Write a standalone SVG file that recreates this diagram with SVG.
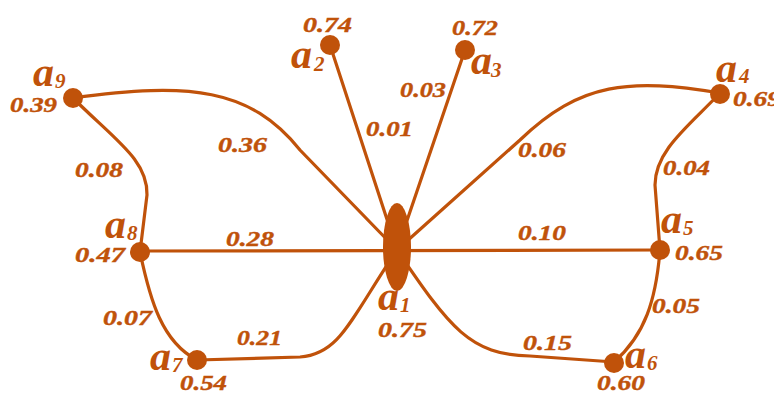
<svg xmlns="http://www.w3.org/2000/svg" width="774" height="394" viewBox="0 0 774 394">
<style>
.e{fill:none;stroke:#C0520A;stroke-width:3.2;stroke-linecap:round}
.n{fill:#C0520A}
text{fill:#C0520A;font-family:"Liberation Serif","Times New Roman",serif;font-weight:bold;font-style:italic}
.v{font-size:21px;stroke:#C0520A;stroke-width:0.4}
.a{font-size:42px}
.s{font-size:21px}
</style>
<rect width="774" height="394" fill="#fff"/>
<g id="connectors">
<path class="e" d="M73,98 C190,82 250,88 300,150 L397,250"/>
<path class="e" d="M73,98 C115,140 148,160 147,195 L140,252"/>
<path class="e" d="M140,252 C150,300 162,342 197,360"/>
<path class="e" d="M197,360 L300,357 C340,354 350,320 397,250"/>
<path class="e" d="M397,250 C450,328 470,355 530,356 L614,362"/>
<path class="e" d="M614,362 C645,335 656,300 660,250"/>
<path class="e" d="M660,250 L655,185 C655,150 690,125 720,93"/>
<path class="e" d="M720,93 C630,78 580,82 520,140 L397,250"/>
<path class="e" d="M140,251 L660,250"/>
<path class="e" d="M330,45 L397,250"/>
<path class="e" d="M465,50 L397,250"/>
<text class="v" x="218" y="152" textLength="49" lengthAdjust="spacingAndGlyphs">0.36</text>
<text class="v" x="366" y="136" textLength="47" lengthAdjust="spacingAndGlyphs">0.01</text>
<text class="v" x="400" y="97" textLength="46" lengthAdjust="spacingAndGlyphs">0.03</text>
<text class="v" x="518" y="157" textLength="48" lengthAdjust="spacingAndGlyphs">0.06</text>
<text class="v" x="75" y="177" textLength="48" lengthAdjust="spacingAndGlyphs">0.08</text>
<text class="v" x="663" y="175" textLength="47" lengthAdjust="spacingAndGlyphs">0.04</text>
<text class="v" x="226" y="246" textLength="48" lengthAdjust="spacingAndGlyphs">0.28</text>
<text class="v" x="518" y="240" textLength="48" lengthAdjust="spacingAndGlyphs">0.10</text>
<text class="v" x="103" y="325" textLength="49" lengthAdjust="spacingAndGlyphs">0.07</text>
<text class="v" x="237" y="345" textLength="45" lengthAdjust="spacingAndGlyphs">0.21</text>
<text class="v" x="523" y="350" textLength="49" lengthAdjust="spacingAndGlyphs">0.15</text>
<text class="v" x="652" y="313" textLength="48" lengthAdjust="spacingAndGlyphs">0.05</text>
</g>
<g id="a1">
<ellipse class="n" cx="397" cy="247" rx="14" ry="44"/>
<text class="a" x="378" y="310">a</text><text class="s" x="400" y="312">1</text>
<text class="v" x="378" y="337" textLength="49" lengthAdjust="spacingAndGlyphs">0.75</text>
</g>
<g id="a2">
<circle class="n" cx="330" cy="45" r="10"/>
<text class="a" x="291" y="68">a</text><text class="s" x="314" y="71">2</text>
<text class="v" x="303" y="32" textLength="49" lengthAdjust="spacingAndGlyphs">0.74</text>
</g>
<g id="a3">
<circle class="n" cx="465" cy="50" r="10"/>
<text class="a" x="471" y="74">a</text><text class="s" x="491" y="77">3</text>
<text class="v" x="452" y="35" textLength="46" lengthAdjust="spacingAndGlyphs">0.72</text>
</g>
<g id="a4">
<circle class="n" cx="720" cy="94" r="10"/>
<text class="a" x="716" y="82">a</text><text class="s" x="739" y="83">4</text>
<text class="v" x="733" y="106" textLength="48" lengthAdjust="spacingAndGlyphs">0.69</text>
</g>
<g id="a5">
<circle class="n" cx="660" cy="250" r="10"/>
<text class="a" x="661" y="233">a</text><text class="s" x="683" y="235">5</text>
<text class="v" x="675" y="260" textLength="48" lengthAdjust="spacingAndGlyphs">0.65</text>
</g>
<g id="a6">
<circle class="n" cx="614" cy="363" r="10"/>
<text class="a" x="625" y="368">a</text><text class="s" x="647" y="370">6</text>
<text class="v" x="597" y="390" textLength="48" lengthAdjust="spacingAndGlyphs">0.60</text>
</g>
<g id="a7">
<circle class="n" cx="197" cy="360" r="10"/>
<text class="a" x="150" y="370">a</text><text class="s" x="172" y="372">7</text>
<text class="v" x="180" y="390" textLength="47" lengthAdjust="spacingAndGlyphs">0.54</text>
</g>
<g id="a8">
<circle class="n" cx="140" cy="252" r="10"/>
<text class="a" x="105" y="238">a</text><text class="s" x="127" y="240">8</text>
<text class="v" x="75" y="262" textLength="50" lengthAdjust="spacingAndGlyphs">0.47</text>
</g>
<g id="a9">
<circle class="n" cx="73" cy="98" r="10"/>
<text class="a" x="33" y="86">a</text><text class="s" x="55" y="88">9</text>
<text class="v" x="10" y="112" textLength="47" lengthAdjust="spacingAndGlyphs">0.39</text>
</g>
</svg>
